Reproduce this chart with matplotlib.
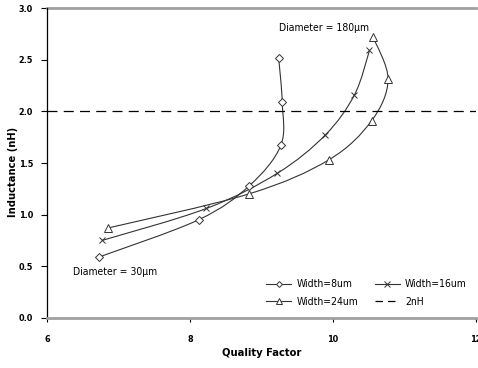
import matplotlib
matplotlib.use('Agg')
import matplotlib.pyplot as plt
from matplotlib.path import Path
from matplotlib.patches import PathPatch
from matplotlib.lines import Line2D
import numpy as np

plt.rcParams['font.family'] = ['DejaVu Sans']
plt.rcParams['font.stretch'] = 'condensed'

# quality factor / inductance
q_w8 = [6.73, 8.12, 8.83, 9.27, 9.29, 9.24]
l_w8 = [0.59, 0.95, 1.28, 1.67, 2.09, 2.52]
q_w16 = [6.77, 8.23, 9.22, 9.89, 10.30, 10.51]
l_w16 = [0.75, 1.06, 1.40, 1.77, 2.16, 2.59]
q_w24 = [6.85, 8.82, 9.94, 10.54, 10.77, 10.56]
l_w24 = [0.87, 1.20, 1.53, 1.91, 2.31, 2.72]
ref_level = 2.0

xticks = [6, 8, 10, 12]
yticks = [0.0, 0.5, 1.0, 1.5, 2.0, 2.5, 3.0]


def smooth_path(xs, ys):
    # catmull-rom style bezier through the points (like excel smoothed lines)
    p = np.column_stack([xs, ys])
    verts = [p[0]]
    codes = [Path.MOVETO]
    n = len(p)
    for i in range(n - 1):
        p0 = p[i - 1] if i > 0 else p[i]
        p3 = p[i + 2] if i + 2 < n else p[i + 1]
        c1 = p[i] + (p[i + 1] - p0) / 6
        c2 = p[i + 1] - (p3 - p[i]) / 6
        verts += [c1, c2, p[i + 1]]
        codes += [Path.CURVE4] * 3
    return Path(verts, codes)


fig = plt.figure(figsize=(4.78, 3.68), dpi=100)
ax = fig.add_axes([0.098, 0.136, 0.898, 0.842])

series = [(q_w8, l_w8, 'D', 'Width=8um', 4),
          (q_w16, l_w16, 'x', 'Width=16um', 5),
          (q_w24, l_w24, '^', 'Width=24um', 5.5)]
handles = {}
for q, l, m, lab, ms in series:
    ax.add_patch(PathPatch(smooth_path(q, l), fill=False, edgecolor='#333333', lw=0.8))
    ax.plot(q, l, linestyle='none', marker=m, ms=ms, mfc='white', mec='#333333', mew=0.7)
    handles[lab] = Line2D([], [], color='#333333', lw=0.8, marker=m, ms=ms - 1,
                          mfc='white', mec='#333333', mew=0.7, label=lab)

ax.axhline(ref_level, color='black', lw=0.9, dashes=(8, 5))
handles['2nH'] = Line2D([], [], color='black', lw=0.9, dashes=(6, 4), label='2nH')

ax.axhline(3.0, color='#a0a0a0', lw=2, clip_on=False)
ax.set_xlim(6, 12)
ax.set_ylim(0, 3.0)
ax.set_xticks(xticks)
ax.set_yticks(yticks)
ax.set_xticklabels([str(t) for t in xticks], fontsize=6.5, fontweight='bold')
ax.set_yticklabels(['%.1f' % t for t in yticks], fontsize=6.5, fontweight='bold')
ax.tick_params(axis='x', length=3, pad=9, width=0.8)
ax.tick_params(axis='y', length=4, pad=6, width=0.8)

for s in ['top', 'right']:
    ax.spines[s].set_visible(False)
ax.spines['bottom'].set_color('#a0a0a0')
ax.spines['bottom'].set_linewidth(2)
ax.spines['left'].set_color('black')
ax.spines['left'].set_linewidth(0.9)

ax.set_xlabel('Quality Factor', fontsize=8, fontweight='bold', labelpad=3)
ax.set_ylabel('Inductance (nH)', fontsize=8, fontweight='bold')
ax.yaxis.set_label_coords(-0.068, 0.47)

ax.text(9.25, 2.81, 'Diameter = 180\u00b5m', fontsize=7.5, va='center')
ax.text(6.36, 0.445, 'Diameter = 30\u00b5m', fontsize=7.5, va='center')

order = ['Width=8um', 'Width=24um', 'Width=16um', '2nH']
ax.legend(handles=[handles[k] for k in order], ncol=2, frameon=False, fontsize=7.5,
          loc='lower right', bbox_to_anchor=(1.0, 0.005), handlelength=2.4,
          columnspacing=1.6, handletextpad=0.5, labelspacing=0.75)

fig.savefig('out.png', dpi=100)
